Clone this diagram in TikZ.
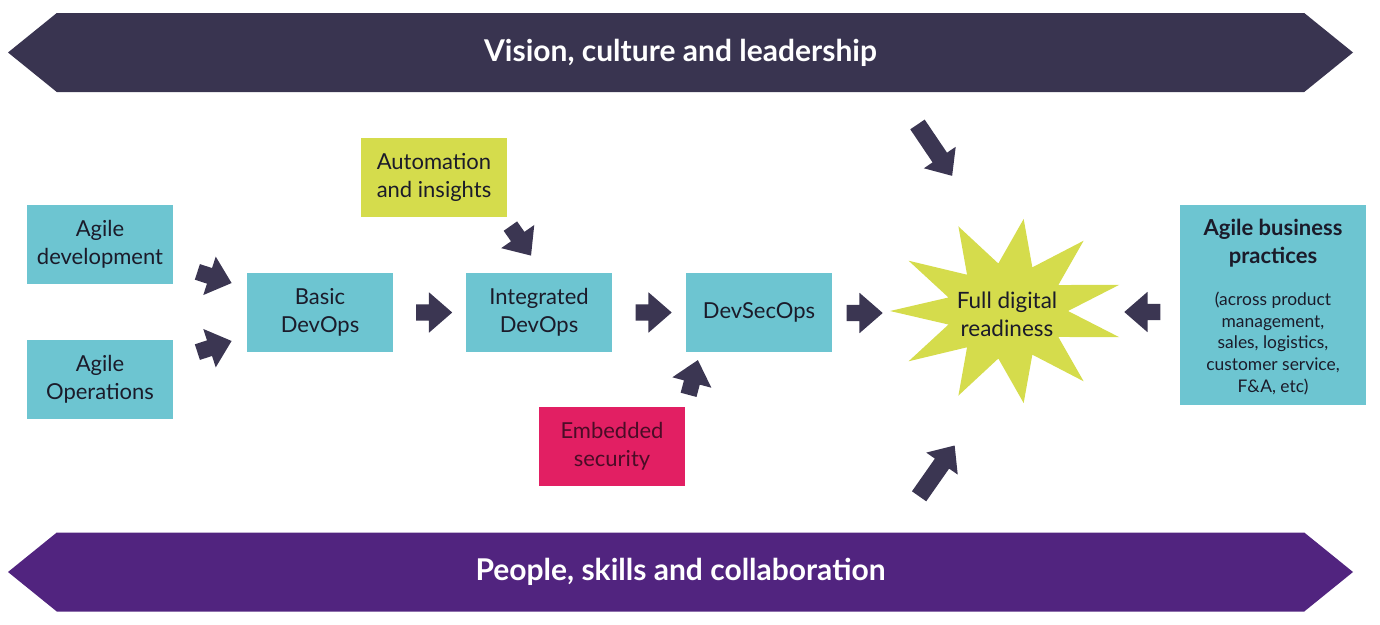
\documentclass[tikz,border=0pt]{standalone}
\usepackage{fontspec}
\setmainfont{Lato}
\usetikzlibrary{shapes.arrows,positioning,calc}
\definecolor{boxcyan}{HTML}{6DC5D1}
\definecolor{burstlime}{HTML}{D5DC4C}
\definecolor{hotpink}{HTML}{E21F63}
\definecolor{wine}{HTML}{4A0C26}
\definecolor{ink}{HTML}{1B1B2A}
\definecolor{arrowgrey}{HTML}{3B3652}
\definecolor{topband}{HTML}{393450}
\definecolor{lowband}{HTML}{51247F}
\tikzset{box/.style={rectangle,fill=boxcyan,text=ink,minimum width=146pt,
minimum height=79pt,inner sep=2pt,align=center,font=\fontsize{22}{28}\selectfont},
limebox/.style={box,fill=burstlime},
pinkbox/.style={box,fill=hotpink,text=wine},
blk/.style={single arrow,fill=arrowgrey,inner xsep=0pt,inner ysep=8pt,minimum height=36pt,
single arrow head extend=12pt,single arrow tip angle=82},
longblk/.style={blk,inner ysep=8.5pt,minimum height=62pt,single arrow head extend=10.5pt},
band/.style={double arrow,double arrow head extend=0pt,double arrow tip angle=78,
minimum height=1345pt,minimum width=79pt,inner sep=0pt,text=white,
font=\fontsize{30}{32}\selectfont\bfseries}}

\begin{document}
\begin{tikzpicture}[x=1pt,y=-1pt]
  \useasboundingbox (0,0) rectangle (1380,624);

  \node (vision) [band,fill=topband] at (680.5,52.5) {Vision, culture and leadership};
  \node (people) [band,fill=lowband] at (680.5,572) {People, skills and collaboration};

  \node (agiledev) [box] at (100,244.5) {Agile\\development};
  \node (agileops) [box] at (100,379.5) {Agile\\Operations};
  \node (basic) [box] at (320,312.5) {Basic\\DevOps};
  \node (integ) [box] at (539,312.5) {Integrated\\DevOps};
  \node (devsecops) [box] at (759,312.5) {DevSecOps};
  \node (autom) [limebox] at (434,177.5) {Automation\\and insights};
  \node (embsec) [pinkbox] at (612,446.5) {Embedded\\security};
  \node (bizprac) [box,minimum width=186pt,minimum height=200pt] at (1273,305) {};
  \node (biztext) [align=center,text=ink,font=\fontsize{22}{28}\selectfont]
    at ([yshift=-4pt]bizprac.center)
    {\textbf{Agile business}\\\textbf{practices}\\[22pt]
     {\fontsize{17.4}{21.7}\selectfont\begin{tabular}{@{}c@{}}(across product\\management,\\
     sales, logistics,\\customer service,\\F\&A, etc)\end{tabular}}};

  % starburst
  \coordinate (burst) at (1007,311);
  \fill [burstlime] ($(burst)+(180:117 and 93)$)
    \foreach \k in {0,...,10} {
      -- ($(burst)+({196.36+\k*32.727}:61 and 48)$)
      -- ($(burst)+({212.73+\k*32.727}:117 and 93)$)
    } -- cycle;
  \node (ready) [align=center,text=ink,font=\fontsize{22.5}{28}\selectfont] at (1007,314)
    {Full digital\\readiness};

  \node (arr1) [blk,rotate=-18] at (210,276) {};
  \node (arr2) [blk,rotate=18] at (210,348) {};
  \node (arr3) [blk] at ($(basic.east)!0.5!(integ.west)$) {};
  \node (arr4) [blk] at ($(integ.east)!0.5!(devsecops.west)$) {};
  \node (arr5) [blk] at (860,313) {};
  \node (arr6) [blk,rotate=180] at (1147,312) {};
  \node (arr7) [blk,rotate=-55] at (518,237) {};
  \node (arr8) [blk,rotate=75] at (692,382) {};
  \node (arr9) [longblk,rotate=-56] at (932,146) {};
  \node (arr10) [longblk,rotate=55] at (934,475) {};
\end{tikzpicture}
\end{document}
